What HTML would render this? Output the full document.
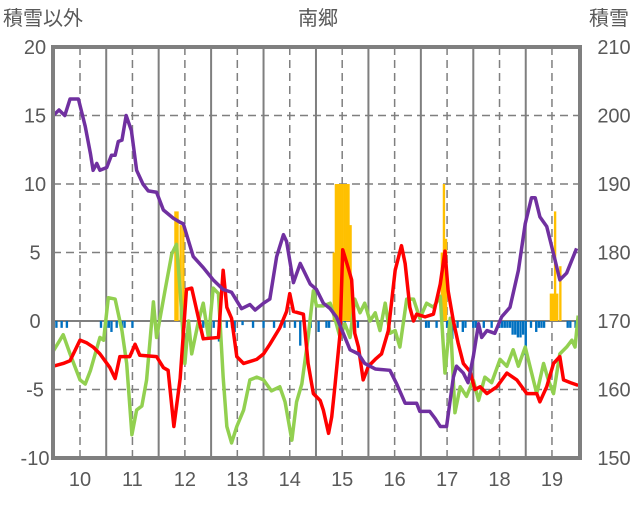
<!DOCTYPE html>
<html><head><meta charset="utf-8">
<style>
html,body{margin:0;padding:0;background:#fff;}
svg text{font-family:"Liberation Sans","Noto Sans CJK JP",sans-serif;fill:#595959;}
</style></head>
<body>
<svg id="chart" width="636" height="501" viewBox="0 0 636 501" xmlns="http://www.w3.org/2000/svg">
<text x="318" y="25" font-size="20" text-anchor="middle">南郷</text>
<text x="3" y="25" font-size="20">積雪以外</text>
<text x="589" y="25" font-size="20">積雪</text>
<g id="grid"></g>
<g id="bars"></g>
<g id="lines"></g>
<g id="axes"></g>
</svg>
<script>
const xTicks=[10,11,12,13,14,15,16,17,18,19];
const leftTicks=[20,15,10,5,0,-5,-10];
const rightTicks=[210,200,190,180,170,160,150];
const purpleX=[9.49,9.6,9.71,9.81,9.97,10.1,10.2,10.25,10.32,10.38,10.51,10.6,10.67,10.73,10.8,10.88,10.98,11.08,11.2,11.3,11.46,11.59,11.78,11.91,11.97,12.16,12.35,12.54,12.73,12.89,13.08,13.24,13.34,13.5,13.62,13.75,13.88,13.94,14.07,14.2,14.39,14.51,14.64,14.77,14.89,15.02,15.15,15.31,15.43,15.63,15.91,16.04,16.2,16.42,16.48,16.67,16.77,16.87,16.99,17.12,17.18,17.31,17.4,17.5,17.6,17.66,17.76,17.91,18.04,18.2,18.36,18.49,18.61,18.68,18.77,18.9,19.03,19.15,19.28,19.47];
const purpleY=[15,15.4,15,16.2,16.2,14.2,12.2,11,11.5,11,11.2,12.1,12.1,13.1,13.2,15,13.9,11,10,9.5,9.4,8.1,7.5,7.2,7.1,4.7,3.9,3,2.3,2.1,0.9,1.2,0.8,1.3,1.6,4.7,6.3,5.8,2.8,4.2,2.7,2.3,1.3,0.9,0.3,-0.9,-2.1,-2.4,-3.1,-3.5,-3.6,-4.6,-6,-6,-6.6,-6.6,-7.1,-7.7,-7.7,-4.1,-3.3,-3.8,-4.5,-2.6,-0.2,-1.2,-0.7,-0.9,0.3,1,3.7,7.1,9,9,7.6,6.9,4.9,3,3.5,5.3];
const redX=[9.49,9.68,9.81,10,10.13,10.25,10.38,10.57,10.67,10.76,10.95,11.05,11.14,11.46,11.59,11.68,11.79,11.91,12.03,12.13,12.26,12.35,12.64,12.73,12.8,12.89,12.99,13.12,13.37,13.5,13.62,13.81,13.94,14,14.07,14.26,14.35,14.45,14.58,14.64,14.74,14.8,14.86,14.96,15.01,15.09,15.18,15.24,15.31,15.4,15.5,15.63,15.75,15.88,16.01,16.13,16.2,16.29,16.36,16.42,16.58,16.74,16.87,16.96,17.02,17.12,17.21,17.31,17.44,17.53,17.63,17.76,17.95,18.14,18.33,18.52,18.71,18.77,18.9,19.03,19.15,19.22,19.35,19.5];
const redY=[-3.3,-3.1,-2.9,-1.4,-1.6,-1.9,-2.4,-3.4,-4.2,-2.6,-2.6,-1.7,-2.5,-2.6,-3.4,-3.6,-7.7,-4.2,2.3,2.4,0.2,-1.3,-1.2,3.7,1,0.2,-2.6,-3.1,-2.8,-2.4,-1.7,-0.5,0.7,2,0.7,0.5,-3.1,-5.3,-5.8,-6.5,-8.2,-7,-4.8,-0.9,5.2,4.2,3,-0.9,-1.9,-4.3,-3.3,-2.8,-2.4,-0.7,3.7,5.5,4.2,1,0,0.5,0.3,0.5,2.7,5.1,2.2,0,-1.6,-3.1,-3.7,-5,-4.8,-5.3,-4.8,-3.8,-4.3,-5.3,-5.3,-5.9,-4.8,-3.1,-2.6,-4.3,-4.5,-4.7];
const greenX=[9.49,9.68,9.81,10,10.1,10.2,10.38,10.45,10.54,10.67,10.8,10.89,10.99,11.08,11.18,11.27,11.4,11.46,11.62,11.75,11.84,11.91,12,12.07,12.13,12.26,12.35,12.45,12.54,12.64,12.73,12.8,12.89,12.99,13.12,13.24,13.37,13.5,13.65,13.81,13.91,14.04,14.13,14.23,14.35,14.45,14.51,14.64,14.77,14.86,14.96,15.05,15.15,15.24,15.34,15.43,15.53,15.63,15.72,15.82,15.91,16.01,16.1,16.23,16.36,16.48,16.61,16.74,16.87,16.96,17.06,17.15,17.25,17.37,17.5,17.6,17.72,17.85,18.01,18.14,18.26,18.36,18.49,18.58,18.71,18.84,18.93,19.03,19.15,19.28,19.38,19.44,19.5];
const greenY=[-2.2,-1,-2.4,-4.3,-4.6,-3.6,-1.2,-1.4,1.7,1.6,-0.7,-3.1,-8.3,-6.5,-6.2,-4.3,1.4,-1.2,2.2,4.9,5.6,2.2,-3.1,0,-2.4,0,1.3,-1.2,2.4,2,-4.1,-7.7,-8.9,-7.7,-6.5,-4.3,-4.1,-4.3,-5.1,-4.8,-5.9,-8.7,-5.9,-4.6,-1.2,2.2,1.1,1.1,1.3,0.2,-1.2,-0.2,-1.2,1.6,0.6,1.3,0,0.6,-0.7,1.3,-0.9,-0.7,-1.9,1.6,1.6,0.2,1.3,1,1.8,-3.8,0.2,-6.7,-4.8,-5.5,-4.3,-5.8,-4.1,-4.5,-2.8,-3.3,-2.1,-3.3,-1.9,-3.3,-5.3,-3.1,-4.3,-5.3,-2.4,-1.9,-1.4,-1.9,0.4];
const snowX=[11.82,11.86,11.92,11.97,14.84,14.88,14.92,14.96,15.0,15.04,15.08,15.12,15.16,16.9,16.94,16.98,18.98,19.02,19.06,19.1,19.16];
const snowV=[8,8,7,7,5,10,10,10,10,10,10,10,7,5,10,6,2,2,8,2,4];
const dropX=[9.55,9.65,9.75,10.4,10.5,10.55,10.6,10.7,10.8,10.85,11.0,12.25,12.35,12.55,12.65,12.8,12.9,12.95,13.1,13.3,13.5,13.7,13.9,14.1,14.2,14.4,14.55,14.7,14.75,15.05,15.3,16.6,16.65,16.8,17.0,17.05,17.1,17.2,17.3,17.35,17.5,17.55,17.7,17.85,18.0,18.05,18.1,18.15,18.2,18.25,18.3,18.35,18.4,18.45,18.5,18.6,18.7,18.75,18.8,18.85,19.3,19.35,19.45];
const dropV=[-0.5,-0.5,-0.5,-0.5,-0.5,-0.5,-0.8,-0.5,-0.8,-0.5,-0.5,-0.5,-0.5,-0.5,-1.5,-0.5,-0.5,-0.8,-0.3,-0.5,-0.5,-0.5,-0.5,-0.5,-1.8,-0.5,-0.8,-0.5,-0.5,-0.5,-0.5,-0.5,-0.5,-0.5,-0.5,-0.5,-1.3,-0.5,-0.8,-0.5,-0.5,-0.5,-0.5,-0.5,-0.5,-0.5,-0.5,-0.5,-0.5,-1,-1,-1.2,-1.2,-1,-2.5,-0.5,-0.8,-0.5,-0.5,-0.5,-0.5,-0.5,-0.5];

const NS='http://www.w3.org/2000/svg';
const X0=53,X1=580,Y0=47,Y1=458;
function xs(v){return 80+(v-10)*52.44;}
function ys(v){return 321-v*13.7;}
function yr(v){return ys((v-170)/2);}
function mk(t,a,p){const e=document.createElementNS(NS,t);for(const k in a)e.setAttribute(k,a[k]);p.appendChild(e);return e;}
const grid=document.getElementById('grid'),bars=document.getElementById('bars'),lines=document.getElementById('lines'),axes=document.getElementById('axes');
leftTicks.forEach(t=>{
 if(t!==0&&t!==20&&t!==-10){const l=mk('line',{x1:X0,x2:X1,y1:ys(t),y2:ys(t),stroke:'#7f7f7f','stroke-width':1.5,'stroke-dasharray':'8,5'},grid);
 
 }
 const tx=mk('text',{x:35,y:ys(t)+7,'font-size':20,'text-anchor':'middle'},axes);tx.textContent=t;
 
 
});
rightTicks.forEach(t=>{
 const tx=mk('text',{x:614,y:yr(t)+7,'font-size':20,'text-anchor':'middle'},axes);tx.textContent=t;
 
 
});
xTicks.forEach(t=>{
 const l=mk('line',{x1:xs(t),x2:xs(t),y1:Y0,y2:Y1,stroke:'#7f7f7f','stroke-width':1.5,'stroke-dasharray':'8,5'},grid);
 
 
 if(t<19){const s=mk('line',{x1:xs(t+0.5),x2:xs(t+0.5),y1:Y0,y2:Y1,stroke:'#7f7f7f','stroke-width':2},grid);
 
 }
 const tx=mk('text',{x:xs(t),y:486,'font-size':20,'text-anchor':'middle'},axes);tx.textContent=t;
 
 
});
const bw=0.045*52.44;
snowX.forEach((x,i)=>{const r=mk('rect',{x:xs(x)-bw/2,y:ys(snowV[i]),width:bw,height:ys(0)-ys(snowV[i]),fill:'#ffc000'},bars);
 
 });
dropX.forEach((x,i)=>{const r=mk('rect',{x:xs(x)-bw/2,y:ys(0),width:bw,height:ys(dropV[i])-ys(0),fill:'#0070c0'},bars);
 
 });
const zl=mk('line',{x1:X0,x2:X1,y1:ys(0),y2:ys(0),stroke:'#7f7f7f','stroke-width':2},grid);


function series(X,Y,c,name){const p=mk('polyline',{points:X.map((x,i)=>xs(x)+','+ys(Y[i])).join(' '),fill:'none',stroke:c,'stroke-width':3.5,'stroke-linejoin':'round'},lines);
 
 }
series(greenX,greenY,'#92d050','green-series');
series(redX,redY,'#ff0000','red-series');
series(purpleX,purpleY,'#7030a0','purple-series');
const fr=mk('rect',{x:X0,y:Y0,width:X1-X0,height:Y1-Y0,fill:'none',stroke:'#7f7f7f','stroke-width':4},axes);


</script>
</body></html>
